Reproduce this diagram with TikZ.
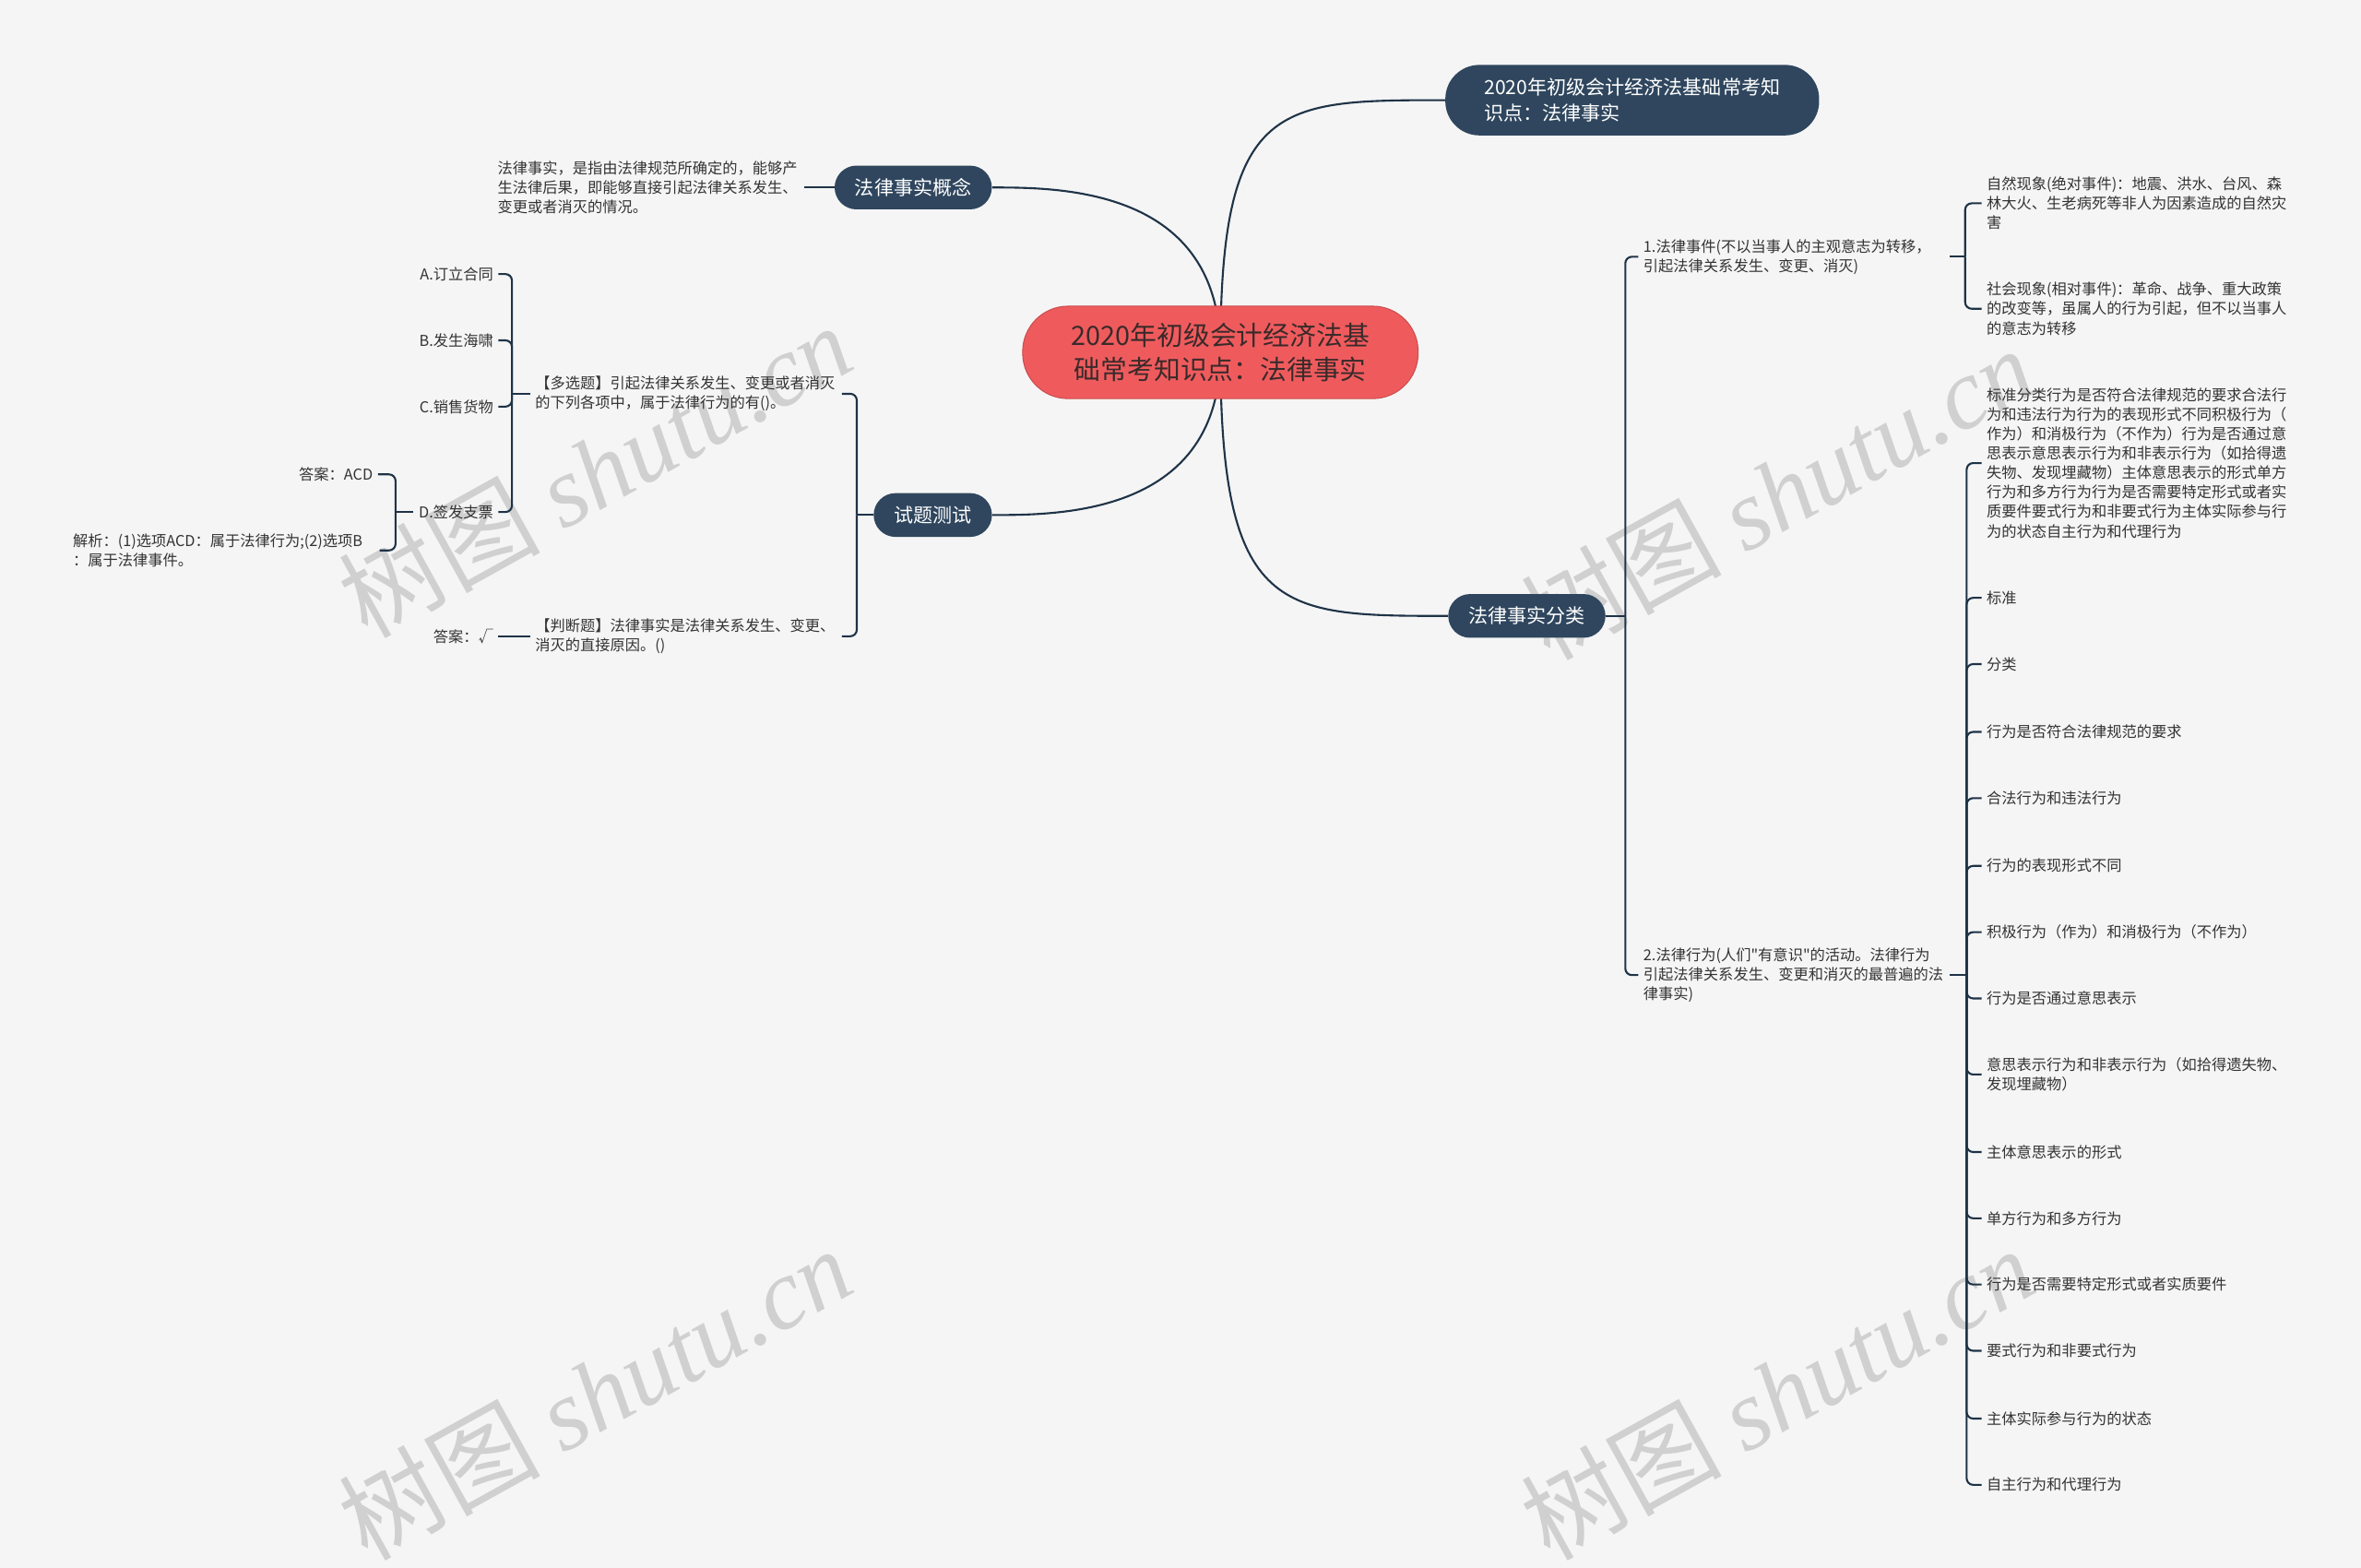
\documentclass[tikz,border=0pt]{standalone}
\usepackage{fontspec}
\setmainfont{Noto Sans CJK SC}
\newfontfamily\cjkplain{Noto Sans CJK SC}
\newfontfamily\wmlatin{Liberation Serif}
\usetikzlibrary{backgrounds}

\definecolor{bgcol}{HTML}{F5F5F5}
\definecolor{rootred}{HTML}{EF5B5D}
\definecolor{roottext}{HTML}{3A2A2A}
\definecolor{navy}{HTML}{2F465E}
\definecolor{linkcol}{HTML}{1F3347}
\definecolor{leaftext}{HTML}{333333}
\definecolor{wmgray}{HTML}{D0D0D0}

\tikzset{
    root/.style={fill=rootred, draw=rootred!85!black, line width=0.6pt, text=roottext,
            rounded corners=28pt, minimum height=57pt, inner xsep=30pt, align=center,
            font=\fontsize{16.4}{21.3}\selectfont},
    topic/.style={fill=navy, text=white, rounded corners=13.5pt, minimum height=27pt,
            inner xsep=12.5pt, font=\fontsize{12}{15.7}\selectfont},
    leaf/.style={text=leaftext, inner xsep=3pt, inner ysep=2pt, align=left,
            font=\fontsize{9.25}{12}\selectfont},
    para/.style={leaf, text width=186pt},
    link/.style={draw=linkcol, line width=1.2pt, rounded corners=4pt},
    wmark/.style={text=wmgray, rotate=29, font=\fontsize{62}{62}\selectfont}
}

\begin{document}
\begin{tikzpicture}[x=0.0326531cm, y=-0.0326531cm]
    \useasboundingbox (0,0) rectangle (1568,1041);

    % Paper and watermarks
    \begin{scope}[on background layer]
        \fill[bgcol] (0,0) rectangle (1568,1041);
        \foreach \wx/\wy in {395/312, 395/925, 1180/327, 1180/925}
            {
                \node[wmark] at (\wx,\wy) {树图 {\wmlatin\itshape shutu.cn}};
            }
    \end{scope}

    % Central topic and main branches
    \node[root] (root) at (810.5,234) {2020年初级会计经济法基\\础常考知识点：法律事实};
    \node[topic, align=left, inner xsep=24pt, minimum height=43.5pt, rounded corners=21pt]
        (title) at (1084,66.5) {2020年初级会计经济法基础常考知\\识点：法律事实};
    \node[topic] (concept) at (606.5,124.5) {法律事实概念};
    \node[topic] (quiz) at (619.5,342) {试题测试};
    \node[topic] (kinds) at (1014,409) {法律事实分类};

    % Concept branch
    \node[para, anchor=west] (def) at (327,124.5)
        {法律事实，是指由法律规范所确定的，能够产\\生法律后果，即能够直接引起法律关系发生、\\变更或者消灭的情况。};

    % Quiz branch
    \node[para, anchor=west] (q1) at (352,261.5)
        {【多选题】引起法律关系发生、变更或者消灭\\的下列各项中，属于法律行为的有()。};
    \node[para, anchor=west] (q2) at (352,422.5)
        {【判断题】法律事实是法律关系发生、变更、\\消灭的直接原因。()};
    \foreach \name/\yy/\txt in {A/182/A.订立合同, B/226/B.发生海啸, C/270/C.销售货物, D/340/D.签发支票}
        {
            \node[leaf, anchor=east] (opt\name) at (331,\yy) {\txt};
        }
    \node[leaf, anchor=east] (ansA) at (251,315) {答案：ACD};
    \node[para, anchor=west] (expl) at (45,365.5)
        {解析：(1)选项ACD：属于法律行为;(2)选项B\\：属于法律事件。};
    \node[leaf, anchor=east] (ansB) at (331,422.5) {答案：√};

    % Classification branch
    \node[para, anchor=west] (ev) at (1088,170.5)
        {1.法律事件(不以当事人的主观意志为转移，\\引起法律关系发生、变更、消灭)};
    \node[para, anchor=west] (act) at (1088,647.5)
        {2.法律行为(人们{\cjkplain"}有意识{\cjkplain"}的活动。法律行为\\引起法律关系发生、变更和消灭的最普遍的法\\律事实)};
    \node[para, anchor=west] (nat) at (1316,135)
        {自然现象(绝对事件)：地震、洪水、台风、森\\林大火、生老病死等非人为因素造成的自然灾\\害};
    \node[para, anchor=west] (soc) at (1316,205)
        {社会现象(相对事件)：革命、战争、重大政策\\的改变等，虽属人的行为引起，但不以当事人\\的意志为转移};
    \foreach \name/\yy/\txt in {
            1/307.5/{标准分类行为是否符合法律规范的要求合法行\\为和违法行为行为的表现形式不同积极行为（\\作为）和消极行为（不作为）行为是否通过意\\思表示意思表示行为和非表示行为（如拾得遗\\失物、发现埋藏物）主体意思表示的形式单方\\行为和多方行为行为是否需要特定形式或者实\\质要件要式行为和非要式行为主体实际参与行\\为的状态自主行为和代理行为},
            2/397/标准, 3/441/分类, 4/486/行为是否符合法律规范的要求,
            5/530/合法行为和违法行为, 6/575/行为的表现形式不同,
            7/619/积极行为（作为）和消极行为（不作为）, 8/663/行为是否通过意思表示,
            9/713.5/{意思表示行为和非表示行为（如拾得遗失物、\\发现埋藏物）},
            10/765/主体意思表示的形式, 11/809/单方行为和多方行为,
            12/853/行为是否需要特定形式或者实质要件, 13/897/要式行为和非要式行为,
            14/942/主体实际参与行为的状态, 15/986/自主行为和代理行为}
        {
            \node[para, anchor=west] (b\name) at (1316,\yy) {\txt};
        }

    % Connectors (kept under the nodes)
    \begin{scope}[on background layer]
        \draw[link] (root.center) .. controls +(0,-167.5) and +(-111,0) .. (title.west);
        \draw[link] (root.center) .. controls +(0,-109.5) and +(45,0) .. (concept.east);
        \draw[link] (root.center) .. controls +(0,108) and +(45,0) .. (quiz.east);
        \draw[link] (root.center) .. controls +(0,175) and +(-111,0) .. (kinds.west);

        \draw[link] (concept.west) -- (def.east);

        \draw[link] (quiz.west) -- ++(-11,0) coordinate (qbar);
        \draw[link] (qbar) |- (q1.east);
        \draw[link] (qbar) |- (q2.east);
        \draw[link] (q1.west) -- ++(-12,0) coordinate (obar);
        \foreach \name in {A,B,C,D}
            {
                \draw[link] (obar) |- (opt\name.east);
            }
        \draw[link] (optD.west) -- ++(-12,0) coordinate (dbar);
        \draw[link] (dbar) |- (ansA.east);
        \draw[link] (dbar) |- (expl.east);
        \draw[link] (q2.west) -- (ansB.east);

        \draw[link] (kinds.east) -- ++(13,0) coordinate (kbar);
        \draw[link] (kbar) |- (ev.west);
        \draw[link] (kbar) |- (act.west);
        \draw[link] (ev.east) -- ++(10,0) coordinate (ebar);
        \draw[link] (ebar) |- (nat.west);
        \draw[link] (ebar) |- (soc.west);
        \draw[link] (act.east) -- ++(11,0) coordinate (abar);
        \foreach \name in {1,...,15}
            {
                \draw[link] (abar) |- (b\name.west);
            }
    \end{scope}
\end{tikzpicture}
\end{document}
